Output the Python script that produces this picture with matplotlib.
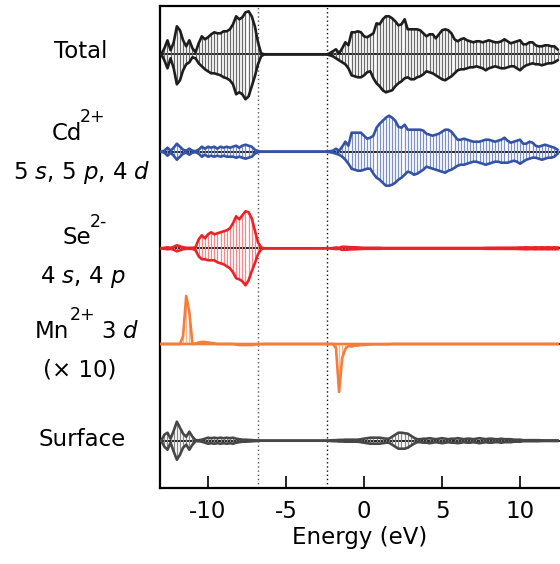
import numpy as np
import matplotlib
matplotlib.use('Agg')
import matplotlib.pyplot as plt

plt.rcParams['axes.unicode_minus'] = False

# energy grid (eV), 0.2 eV steps
energy = np.round(np.arange(-13.0, 12.41, 0.2), 2)

# ---- Total ----
total_up = ([0, 6, 14, 4, 12, 28, 24, 14, 8, 14,
             6, 2, 11, 18, 15, 17, 20, 22, 21, 21,
             23, 23, 25, 30, 38, 35, 37, 42, 43, 38,
             28, 12, 1]
            + [0] * 21
            + [1, 3, 5, 1, 6, 12, 9, 22, 22, 23,
               22, 18, 17, 19, 21, 31, 30, 35, 38, 38,
               36, 33, 29, 30, 35, 25, 25, 25, 25, 24,
               21, 18, 20, 20, 16, 20, 24, 25, 24, 21,
               15, 13, 15, 16, 14, 13, 12, 13, 13, 12,
               13, 14, 13, 12, 12, 13, 15, 13, 11, 12,
               13, 14, 10, 10, 12, 12, 9, 8, 8, 9,
               9, 8, 8, 5])
total_dn = ([0, 6, 14, 4, 14, 30, 26, 16, 10, 8,
             3, 4, 9, 12, 15, 17, 19, 19, 20, 21,
             23, 24, 26, 30, 40, 38, 40, 45, 42, 32,
             22, 10, 2]
            + [0] * 21
            + [1, 2, 4, 6, 8, 10, 14, 21, 22, 23,
               23, 21, 18, 17, 24, 29, 32, 36, 38, 37,
               36, 32, 29, 27, 24, 23, 25, 25, 23, 22,
               20, 17, 18, 19, 21, 23, 25, 26, 24, 22,
               19, 16, 15, 15, 14, 13, 13, 12, 13, 14,
               16, 14, 13, 12, 13, 14, 14, 13, 12, 12,
               14, 16, 13, 11, 10, 9, 10, 10, 11, 10,
               9, 9, 8, 6])

# ---- Cd 5s,5p,4d ----
cd_up = ([0, 1, 4, 1, 4, 8, 5, 2, 1, 3,
          1, 0.5, 2, 5, 3, 5, 4, 5, 3, 5,
          4, 5, 4, 5, 6, 4, 6, 7, 6, 5,
          2, 0.5, 0]
         + [0] * 21
         + [0.5, 1, 3, 1, 5, 10, 6, 19, 19, 19,
            19, 16, 13, 14, 16, 24, 28, 31, 34, 36,
            34, 31, 25, 24, 27, 22, 22, 22, 22, 22,
            21, 18, 17, 16, 17, 18, 20, 22, 22, 20,
            16, 12, 12, 13, 12, 11, 10, 10, 10, 11,
            12, 12, 11, 10, 11, 12, 14, 11, 9, 10,
            11, 12, 8, 8, 10, 9, 6, 5, 6, 7,
            6, 5, 4, 2])
cd_dn = ([0, 1, 4, 1, 4, 8, 5, 2, 1, 3,
          1, 0.5, 2, 5, 3, 5, 4, 5, 4, 5,
          4, 5, 5, 5, 6, 5, 6, 7, 6, 5,
          2, 0.5, 0]
         + [0] * 21
         + [0.5, 1, 2, 3, 5, 8, 12, 17, 18, 19,
            19, 18, 17, 17, 22, 26, 28, 31, 34, 34,
            33, 31, 28, 26, 23, 20, 21, 23, 22, 20,
            18, 15, 16, 17, 18, 19, 20, 21, 19, 18,
            16, 14, 13, 13, 12, 11, 10, 10, 11, 12,
            13, 12, 11, 10, 10, 11, 11, 11, 10, 9,
            10, 12, 10, 8, 7, 6, 6, 7, 8, 7,
            6, 6, 5, 2])

# ---- Se 4s,4p ----
se_up = ([0, 0.5, 1, 0.5, 1.5, 3, 2, 1, 0.5, 0.5,
          0.5, 1, 9, 13, 10, 14, 16, 14, 15, 16,
          17, 18, 20, 25, 32, 29, 33, 37, 36, 30,
          18, 6, 1]
         + [0] * 21
         + [0, 0.3, 0.8, 0.5, 1.5, 1.5, 1.2, 1, 1, 0.8,
            0.6, 0.5, 0.5, 0.5, 0.5, 0.5, 0.5, 0.3, 0.3, 0.3]
         + [0.3] * 30
         + [0.5, 0.5, 0.6, 0.6, 0.6, 0.6, 0.5, 0.5, 0.5, 0.5,
            0.6, 0.8, 0.8, 1, 0.8, 0.8, 1, 0.8, 1, 0.8,
            1, 0.8, 1, 0.8])
se_dn = ([0, 0.5, 1, 0.5, 1.5, 3, 2, 1, 0.5, 0.5,
          0.5, 2, 8, 11, 11, 12, 12, 12, 14, 15,
          16, 18, 20, 24, 30, 31, 33, 37, 32, 23,
          15, 6, 1]
         + [0] * 21
         + [0, 0.3, 0.8, 0.5, 1.5, 1.5, 1.2, 1, 1, 0.8,
            0.6, 0.5, 0.5, 0.5, 0.5, 0.5, 0.5, 0.3, 0.3, 0.3]
         + [0.3] * 30
         + [0.5, 0.5, 0.6, 0.6, 0.6, 0.6, 0.5, 0.5, 0.5, 0.5,
            0.6, 0.8, 0.8, 1, 0.8, 0.8, 1, 0.8, 1, 0.8,
            1, 0.8, 1, 0.8])

# ---- Mn 3d (x10) ----
mn_up = ([0, 0, 0, 0, 0, 0, 0, 8, 48, 32,
          0, 0.5, 1.5, 2, 2, 1.5, 1, 0.5, 0, 0]
         + [0] * 13
         + [0] * 21
         + [0] * 74)
mn_dn = ([0] * 24
         + [0.5, 1, 1, 1, 1, 1, 0.5, 0.3, 0]
         + [0] * 21
         + [0, 0, 4, 48, 14, 5, 2, 2.5, 1.5, 1.5,
            1, 1, 0.5, 0.5, 0.3, 0.3, 0.3, 0.3, 0.3, 0.3]
         + [0] * 54)

# ---- Surface ----
surf_up = ([0, 6, 8, 2, 10, 19, 13, 7, 4, 9,
            4, 0.5, 0.5, 1, 2, 3, 2.5, 3, 2.5, 3,
            2.5, 3, 2.5, 3, 2, 1.5, 1, 1, 0.8, 0.6,
            0.5, 0.3, 0]
           + [0] * 21
           + [0.3, 0.5, 0.5, 0.8, 0.8, 1, 1, 1, 1, 1,
              1.5, 2, 2.5, 3, 3, 3, 3, 2.5, 2, 2,
              4, 6, 8, 8, 7.5, 7, 5, 3, 1.5, 1.5,
              2, 2, 2.5, 2, 1.5, 2, 2.5, 2, 1.5, 2,
              2, 2.5, 2, 1.5, 2, 2, 1.5, 2, 2.5, 2,
              1.5, 2, 2, 1.5, 1.5, 2, 1.5, 1.5, 1.5, 1,
              1, 1, 0.5, 0.5, 0.5, 0.5, 0.5, 0.5, 0.3, 0.3,
              0.3, 0.3, 0.3, 0.3])
surf_dn = ([0, 6, 9, 2, 11, 19, 14, 7, 4, 9,
            4, 0.5, 0.5, 1, 2, 3, 2.5, 3, 2.5, 3,
            2.5, 3, 2.5, 3, 2, 1.5, 1, 1, 0.8, 0.6,
            0.5, 0.3, 0]
           + [0] * 21
           + [0.3, 0.5, 0.5, 0.8, 0.8, 1, 1, 1, 1, 1,
              1.5, 2, 2.5, 3, 3, 3, 3, 2.5, 2, 2,
              4, 6, 8, 8, 8, 7, 5, 3, 1.5, 1.5,
              2, 2, 2.5, 2, 1.5, 2, 2.5, 2, 1.5, 2,
              2, 2.5, 2, 1.5, 2, 2, 1.5, 2, 2.5, 2,
              1.5, 2, 2, 1.5, 1.5, 2, 1.5, 1.5, 1.5, 1,
              1, 1, 0.5, 0.5, 0.5, 0.5, 0.5, 0.5, 0.3, 0.3,
              0.3, 0.3, 0.3, 0.3])

dotted_lines = [-6.8, -2.37]

# panel: (up, down, line colour, stem colour, offset)
panels = [
    (total_up, total_dn, '#1e1e1e', '#6a6a6a', 433.7),
    (cd_up, cd_dn, '#3553a3', '#7d90c8', 336.3),
    (se_up, se_dn, '#ec2227', '#f28a8c', 239.7),
    (mn_up, mn_dn, '#f47d3b', '#f9b48a', 144.0),
    (surf_up, surf_dn, '#474747', '#8a8a8a', 47.3),
]

W, H = 560, 564
fig = plt.figure(figsize=(W / 100, H / 100), dpi=100)
ax = fig.add_axes([160 / W, 76 / H, 400 / W, 482 / H])

for up, dn, lc, sc, off in panels:
    up = np.array(up, dtype=float)
    dn = np.array(dn, dtype=float)
    assert len(up) == len(energy) and len(dn) == len(energy)
    ax.axhline(off, color='#1e1e1e', lw=1.4, zorder=1)
    ax.vlines(energy, off - dn, off + up, colors=sc, lw=0.9, zorder=2)
    ax.plot(energy, off + up, color=lc, lw=1.9, zorder=3)
    ax.plot(energy, off - dn, color=lc, lw=1.9, zorder=3)

ax.axvline(dotted_lines[0], color='#555555', lw=1.0, ls=(0, (1, 2)), zorder=0)
ax.axvline(dotted_lines[1], color='#111111', lw=1.0, ls=(0, (1, 2)), zorder=0)

ax.set_xlim(-13.08, 12.56)
ax.set_ylim(0, 482)
ax.set_yticks([])
ax.set_xticks([-10, -5, 0, 5, 10])
ax.tick_params(axis='x', direction='in', length=8.5, width=1.2, labelsize=16.5, pad=9)
for s in ['left', 'bottom', 'top']:
    ax.spines[s].set_linewidth(1.6)
ax.spines['right'].set_visible(False)
ax.set_xlabel('Energy (eV)', fontsize=16.5, labelpad=2)

def lab(x, y, s, ha='center', size=16.5):
    fig.text(x / W, 1 - y / H, s, ha=ha, va='center', fontsize=size)

lab(81, 52, 'Total')
lab(67, 134, 'Cd')
lab(80, 117, '2+', ha='left', size=12.5)
lab(82, 172, r'5 $s$, 5 $p$, 4 $d$')
lab(77, 238, 'Se')
lab(90, 222, '2-', ha='left', size=12.5)
lab(83, 277, r'4 $s$, 4 $p$')
lab(52, 332, 'Mn')
lab(70, 315, '2+', ha='left', size=12.5)
lab(120, 332, r'3 $d$')
lab(80, 370, '(× 10)')
lab(82, 440, 'Surface')

fig.savefig('out.png', dpi=100)
